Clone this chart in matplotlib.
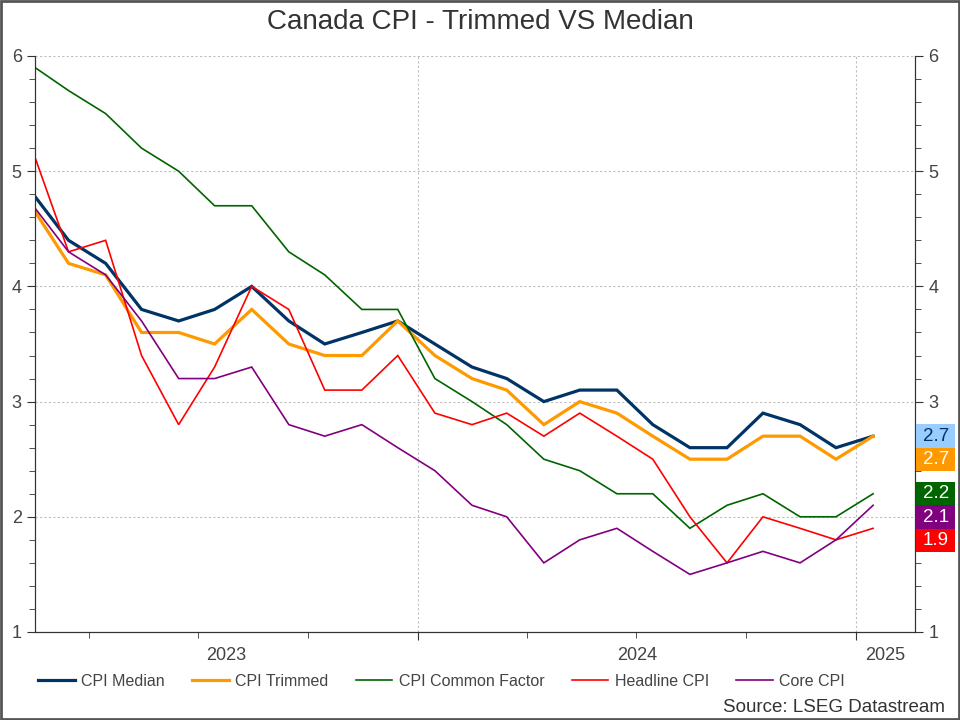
import numpy as np
import pandas as pd
import matplotlib
matplotlib.use("Agg")
import matplotlib.pyplot as plt
import matplotlib.dates as mdates
import matplotlib.transforms as mtransforms
from matplotlib.patches import Rectangle

plt.rcParams['font.family'] = ['Liberation Sans', 'DejaVu Sans']

# monthly data, Feb 2023 .. Jan 2025 (plotted mid-month)
dates = pd.date_range('2023-02-01', '2025-01-01', freq='MS') + pd.Timedelta(days=14)

cpi_median = [4.78, 4.4, 4.2, 3.8, 3.7, 3.8, 4.0, 3.7, 3.5, 3.6, 3.7, 3.5,
              3.3, 3.2, 3.0, 3.1, 3.1, 2.8, 2.6, 2.6, 2.9, 2.8, 2.6, 2.7]
cpi_trim = [4.65, 4.2, 4.1, 3.6, 3.6, 3.5, 3.8, 3.5, 3.4, 3.4, 3.7, 3.4,
            3.2, 3.1, 2.8, 3.0, 2.9, 2.7, 2.5, 2.5, 2.7, 2.7, 2.5, 2.7]
cpi_common = [5.9, 5.7, 5.5, 5.2, 5.0, 4.7, 4.7, 4.3, 4.1, 3.8, 3.8, 3.2,
              3.0, 2.8, 2.5, 2.4, 2.2, 2.2, 1.9, 2.1, 2.2, 2.0, 2.0, 2.2]
cpi_headline = [5.12, 4.3, 4.4, 3.4, 2.8, 3.3, 4.0, 3.8, 3.1, 3.1, 3.4, 2.9,
                2.8, 2.9, 2.7, 2.9, 2.7, 2.5, 2.0, 1.6, 2.0, 1.9, 1.8, 1.9]
cpi_core = [4.68, 4.3, 4.1, 3.7, 3.2, 3.2, 3.3, 2.8, 2.7, 2.8, 2.6, 2.4,
            2.1, 2.0, 1.6, 1.8, 1.9, 1.7, 1.5, 1.6, 1.7, 1.6, 1.8, 2.1]
yticks = [1, 2, 3, 4, 5, 6]

series = [
    ("CPI Median", cpi_median, "#003366", 2.3, "#99ccff", "#003366"),
    ("CPI Trimmed", cpi_trim, "#ff9900", 2.3, "#ff9900", "white"),
    ("CPI Common Factor", cpi_common, "#006400", 1.2, "#006400", "white"),
    ("Headline CPI", cpi_headline, "#ff0000", 1.2, "#ff0000", "white"),
    ("Core CPI", cpi_core, "#800080", 1.2, "#800080", "white"),
]

fig = plt.figure(figsize=(9.6, 7.2), dpi=100)
ax = fig.add_axes([35/960, 1-632/720, 880/960, 576/720])

for name, vals, col, lw, _, _ in series:
    ax.plot(dates, vals, color=col, lw=lw, label=name, solid_joinstyle='miter')

x0 = dates[0]
x1 = pd.Timestamp('2025-02-19')
ax.set_xlim(x0, x1)
ax.set_ylim(1, 6)

ax.xaxis.set_major_locator(mdates.YearLocator())
ax.xaxis.set_minor_locator(mdates.MonthLocator(bymonth=[4, 7, 10]))
ax.xaxis.set_major_formatter(plt.NullFormatter())
ax.set_yticks(yticks)
ax.yaxis.set_minor_locator(plt.MultipleLocator(0.2))
ax.grid(True, which='major', color='#c0c0c0', ls=(0, (2, 2)), lw=0.8)
ax.tick_params(which='major', length=6, color='#333333', labelsize=13, labelcolor='#444444')
ax.tick_params(which='minor', length=4, color='#333333')
ax.spines['top'].set_visible(False)
for s in ['left', 'bottom', 'right']:
    ax.spines[s].set_color('#333333')

# year labels centred in the visible part of each year
trans = mtransforms.blended_transform_factory(ax.transData, ax.transAxes)
for yr in [2023, 2024, 2025]:
    a = max(pd.Timestamp(f'{yr}-01-01'), x0)
    b = min(pd.Timestamp(f'{yr + 1}-01-01'), x1)
    mid = a + (b - a) / 2
    ax.text(mdates.date2num(mid), -0.04, str(yr), transform=trans,
            ha='center', va='center', fontsize=13, color='#444444')

ax2 = ax.twinx()
ax2.set_ylim(1, 6)
ax2.yaxis.set_minor_locator(plt.MultipleLocator(0.2))
ax2.tick_params(which='major', length=6, color='#333333', labelsize=13, labelcolor='#444444')
ax2.tick_params(which='minor', length=4, color='#333333')
ax2.spines['top'].set_visible(False)
for s in ['left', 'bottom', 'right']:
    ax2.spines[s].set_color('#333333')

# last-value boxes on the right, sorted by value and pushed down to avoid overlap
ltrans = mtransforms.blended_transform_factory(ax.transAxes, ax.transData)
order = sorted(range(len(series)), key=lambda i: -series[i][1][-1])
box_w = 39 / 880
box_h = 0.203
prev = None
box_ys = []
for i in order:
    name, vals, col, lw, bg, fg = series[i]
    y = vals[-1]
    if prev is not None and y > prev - box_h:
        y = prev - box_h
    prev = y
    box_ys.append(y)
    ax2.add_patch(Rectangle((1.0015, y - box_h / 2), box_w, box_h, transform=ltrans,
                            fc=bg, ec='none', clip_on=False, zorder=9))
    ax2.text(1.0015 + box_w / 2, y, f"{vals[-1]:.1f}", transform=ltrans, ha='center',
             va='center', fontsize=13.5, color=fg, zorder=10)

# right tick labels that sit behind the boxes are left blank
ax2.set_yticks(yticks)
ax2.set_yticklabels(['' if any(abs(v - by) < box_h for by in box_ys) else str(v)
                     for v in yticks])

fig.text(0.5, 1-22/720, "Canada CPI - Trimmed VS Median", ha='center', va='center',
         fontsize=20, color='#333333')

fig.legend(loc='center', bbox_to_anchor=(0.46, 1-681/720), ncol=5, frameon=False,
           fontsize=11.5, handlelength=2.3, handletextpad=0.4, columnspacing=1.7,
           labelcolor='#444444')

fig.text(945/960, 1-707/720, "Source: LSEG Datastream", ha='right', va='center',
         fontsize=13.5, color='#333333')

fig.patches.append(Rectangle((0.001, 0.001), 0.998, 0.998, transform=fig.transFigure,
                             fill=False, ec='#555555', lw=2))

fig.savefig("out.png", dpi=100)
